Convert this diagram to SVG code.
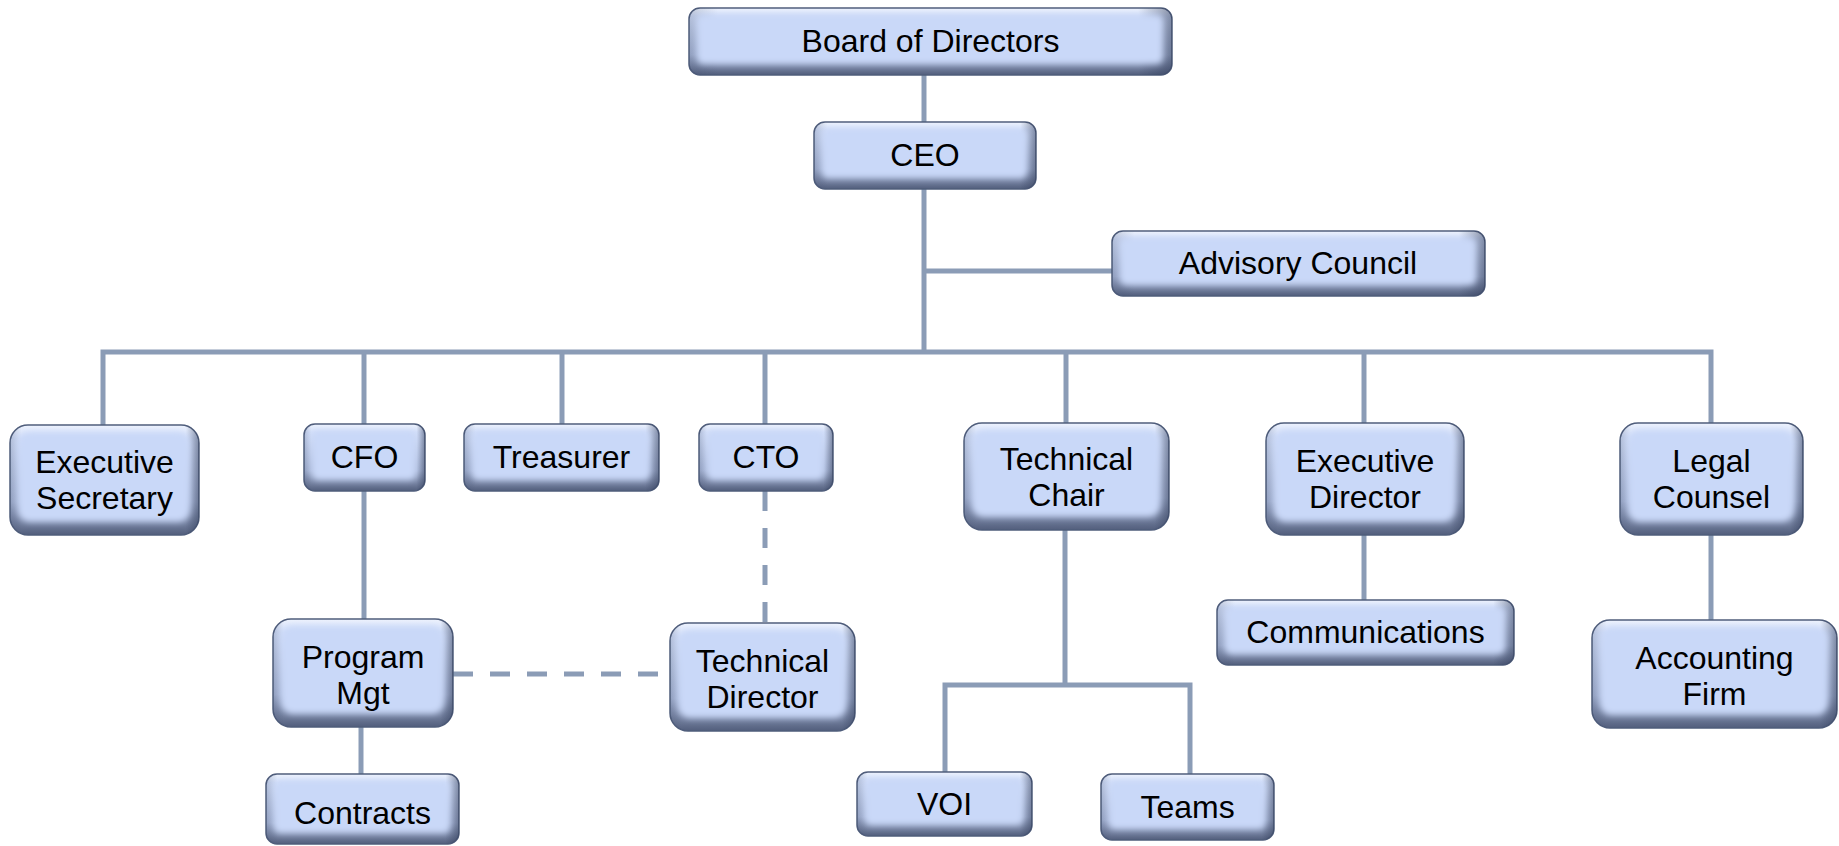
<svg xmlns="http://www.w3.org/2000/svg" width="1839" height="846" viewBox="0 0 1839 846">
<defs>
<linearGradient id="gv" x1="0" y1="0" x2="0" y2="1">
<stop offset="0" stop-color="#eef3fd"/>
<stop offset="0.12" stop-color="#d3dff9"/>
<stop offset="0.7" stop-color="#a9b7d7"/>
<stop offset="1" stop-color="#525e7c"/>
</linearGradient>
<linearGradient id="gh" x1="0" y1="0" x2="1" y2="0">
<stop offset="0" stop-color="#3a4868" stop-opacity="0.22"/>
<stop offset="0.06" stop-color="#3a4868" stop-opacity="0"/>
<stop offset="0.93" stop-color="#2c3855" stop-opacity="0"/>
<stop offset="1" stop-color="#2c3855" stop-opacity="0.5"/>
</linearGradient>
<filter id="soft" x="-10%" y="-20%" width="120%" height="140%">
<feGaussianBlur stdDeviation="3"/>
</filter>
</defs>
<style>
.o{fill:url(#gv);stroke:#4f5d7b;stroke-width:1.5}
.h{fill:url(#gh)}
.i{fill:#c9d8f8;filter:url(#soft)}
.t{font-family:"Liberation Sans",Arial,sans-serif;font-size:32px;fill:#000;text-anchor:middle;dominant-baseline:central}
.c{fill:none;stroke:#8b9cb6;stroke-width:5}
.d{fill:none;stroke:#8b9cb6;stroke-width:5;stroke-dasharray:20 17}
</style>
<rect width="1839" height="846" fill="#ffffff"/>
<g id="connectors">
<path class="c" d="M924 75V122"/>
<path class="c" d="M924 188V352"/>
<path class="c" d="M924 271H1112"/>
<path class="c" d="M103 425V352H1711V423"/>
<path class="c" d="M364 352V424"/>
<path class="c" d="M562 352V424"/>
<path class="c" d="M765 352V424"/>
<path class="c" d="M1066 352V423"/>
<path class="c" d="M1364 352V423"/>
<path class="c" d="M364 491V619"/>
<path class="c" d="M361 727V774"/>
<path class="d" d="M765 491V623"/>
<path class="d" d="M453 674H670"/>
<path class="c" d="M1065 530V684"/>
<path class="c" d="M945 772V685H1190V774"/>
<path class="c" d="M1364 535V600"/>
<path class="c" d="M1711 535V620"/>
</g>
<g id="board">
<rect class="o" x="689" y="8" width="483" height="67" rx="11"/>
<rect class="h" x="689" y="8" width="483" height="67" rx="11"/>
<rect class="i" x="697" y="15" width="466" height="49" rx="6"/>
<text class="t" x="930.5" y="41">Board of Directors</text>
</g>
<g id="ceo">
<rect class="o" x="814" y="122" width="222" height="67" rx="11"/>
<rect class="h" x="814" y="122" width="222" height="67" rx="11"/>
<rect class="i" x="822" y="129" width="205" height="49" rx="6"/>
<text class="t" x="925" y="155">CEO</text>
</g>
<g id="advisory">
<rect class="o" x="1112" y="231" width="373" height="65" rx="11"/>
<rect class="h" x="1112" y="231" width="373" height="65" rx="11"/>
<rect class="i" x="1120" y="238" width="356" height="47" rx="6"/>
<text class="t" x="1298" y="263">Advisory Council</text>
</g>
<g id="exec-secretary">
<rect class="o" x="10" y="425" width="189" height="110" rx="18"/>
<rect class="h" x="10" y="425" width="189" height="110" rx="18"/>
<rect class="i" x="18" y="432" width="172" height="90" rx="12"/>
<text class="t" x="104.5" y="462">Executive</text>
<text class="t" x="104.5" y="498">Secretary</text>
</g>
<g id="cfo">
<rect class="o" x="304" y="424" width="121" height="67" rx="11"/>
<rect class="h" x="304" y="424" width="121" height="67" rx="11"/>
<rect class="i" x="312" y="431" width="104" height="49" rx="6"/>
<text class="t" x="364.5" y="457">CFO</text>
</g>
<g id="treasurer">
<rect class="o" x="464" y="424" width="195" height="67" rx="11"/>
<rect class="h" x="464" y="424" width="195" height="67" rx="11"/>
<rect class="i" x="472" y="431" width="178" height="49" rx="6"/>
<text class="t" x="561.5" y="457">Treasurer</text>
</g>
<g id="cto">
<rect class="o" x="699" y="424" width="134" height="67" rx="11"/>
<rect class="h" x="699" y="424" width="134" height="67" rx="11"/>
<rect class="i" x="707" y="431" width="117" height="49" rx="6"/>
<text class="t" x="766" y="457">CTO</text>
</g>
<g id="technical-chair">
<rect class="o" x="964" y="423" width="205" height="107" rx="18"/>
<rect class="h" x="964" y="423" width="205" height="107" rx="18"/>
<rect class="i" x="972" y="430" width="188" height="87" rx="12"/>
<text class="t" x="1066.5" y="459">Technical</text>
<text class="t" x="1066.5" y="495">Chair</text>
</g>
<g id="executive-director">
<rect class="o" x="1266" y="423" width="198" height="112" rx="18"/>
<rect class="h" x="1266" y="423" width="198" height="112" rx="18"/>
<rect class="i" x="1274" y="430" width="181" height="92" rx="12"/>
<text class="t" x="1365" y="461">Executive</text>
<text class="t" x="1365" y="497">Director</text>
</g>
<g id="legal-counsel">
<rect class="o" x="1620" y="423" width="183" height="112" rx="18"/>
<rect class="h" x="1620" y="423" width="183" height="112" rx="18"/>
<rect class="i" x="1628" y="430" width="166" height="92" rx="12"/>
<text class="t" x="1711.5" y="461">Legal</text>
<text class="t" x="1711.5" y="497">Counsel</text>
</g>
<g id="program-mgt">
<rect class="o" x="273" y="619" width="180" height="108" rx="18"/>
<rect class="h" x="273" y="619" width="180" height="108" rx="18"/>
<rect class="i" x="281" y="626" width="163" height="88" rx="12"/>
<text class="t" x="363" y="657">Program</text>
<text class="t" x="363" y="693">Mgt</text>
</g>
<g id="technical-director">
<rect class="o" x="670" y="623" width="185" height="108" rx="18"/>
<rect class="h" x="670" y="623" width="185" height="108" rx="18"/>
<rect class="i" x="678" y="630" width="168" height="88" rx="12"/>
<text class="t" x="762.5" y="661">Technical</text>
<text class="t" x="762.5" y="697">Director</text>
</g>
<g id="contracts">
<rect class="o" x="266" y="774" width="193" height="70" rx="11"/>
<rect class="h" x="266" y="774" width="193" height="70" rx="11"/>
<rect class="i" x="274" y="781" width="176" height="52" rx="6"/>
<text class="t" x="362.5" y="813">Contracts</text>
</g>
<g id="communications">
<rect class="o" x="1217" y="600" width="297" height="65" rx="11"/>
<rect class="h" x="1217" y="600" width="297" height="65" rx="11"/>
<rect class="i" x="1225" y="607" width="280" height="47" rx="6"/>
<text class="t" x="1365.5" y="632">Communications</text>
</g>
<g id="accounting-firm">
<rect class="o" x="1592" y="620" width="245" height="108" rx="18"/>
<rect class="h" x="1592" y="620" width="245" height="108" rx="18"/>
<rect class="i" x="1600" y="627" width="228" height="88" rx="12"/>
<text class="t" x="1714.5" y="658">Accounting</text>
<text class="t" x="1714.5" y="694">Firm</text>
</g>
<g id="voi">
<rect class="o" x="857" y="772" width="175" height="64" rx="11"/>
<rect class="h" x="857" y="772" width="175" height="64" rx="11"/>
<rect class="i" x="865" y="779" width="158" height="46" rx="6"/>
<text class="t" x="944.5" y="804">VOI</text>
</g>
<g id="teams">
<rect class="o" x="1101" y="774" width="173" height="66" rx="11"/>
<rect class="h" x="1101" y="774" width="173" height="66" rx="11"/>
<rect class="i" x="1109" y="781" width="156" height="48" rx="6"/>
<text class="t" x="1187.5" y="807">Teams</text>
</g>
</svg>
